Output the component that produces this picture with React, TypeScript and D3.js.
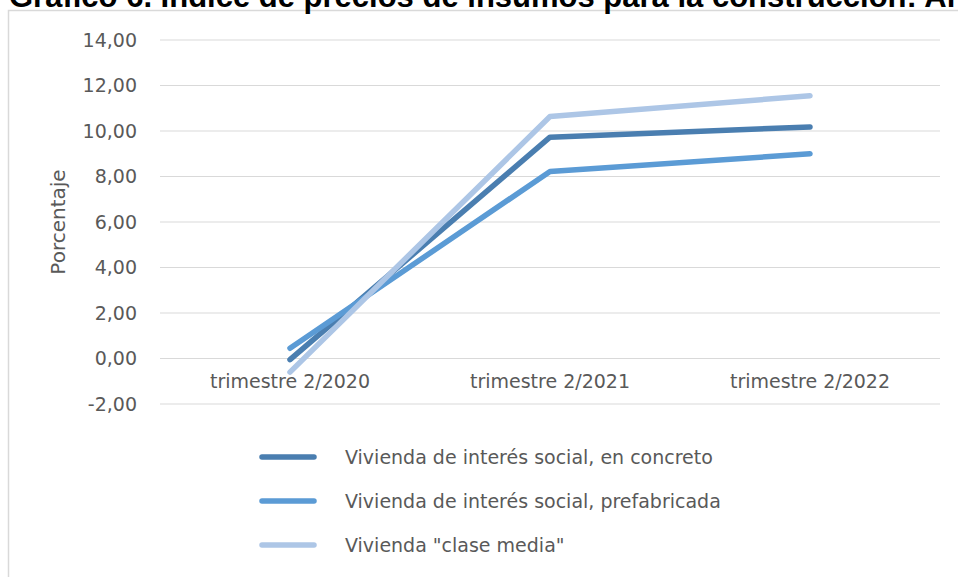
import React from 'react';
import * as d3 from 'd3';

const categories = ['trimestre 2/2020', 'trimestre 2/2021', 'trimestre 2/2022'];
const seriesNames = [
  'Vivienda de interés social, en concreto',
  'Vivienda de interés social, prefabricada',
  'Vivienda "clase media"',
];
const concreto = [-0.05, 9.73, 10.18];
const prefabricada = [0.45, 8.22, 9.0];
const claseMedia = [-0.6, 10.64, 11.55];
const yTicks = [-2, 0, 2, 4, 6, 8, 10, 12, 14];
const colors = ['#4A7EB0', '#5B9BD5', '#ADC6E6'];

const W = 958;
const H = 577;
const font = '"DejaVu Sans", sans-serif';

const App: React.FC = () => {
  const series = [concreto, prefabricada, claseMedia];

  // plot area
  const left = 160;
  const right = 940;
  const x = d3.scaleBand<string>().domain(categories).range([left, right]);
  const y = d3.scaleLinear().domain([-2, 14]).range([404, 40]);
  const fmt = (v: number) => v.toFixed(2).replace('.', ',');

  const line = d3
    .line<number>()
    .x((_, i) => (x(categories[i]) as number) + x.bandwidth() / 2)
    .y((d) => y(d));

  return (
    <svg
      width={W}
      height={H}
      style={{ position: 'absolute', left: 0, top: 0, background: '#fff' }}
    >
      {/* chart frame */}
      <rect x={8.5} y={10.5} width={W + 10} height={H + 10} fill="#fff" stroke="#D9D9D9" strokeWidth={1.5} />

      {/* title, cut off at the top */}
      <text x={9} y={7} fontFamily='"Liberation Sans", Arial, sans-serif' fontWeight="bold" fontSize={31} fill="#000">
        Gráfico 6. Índice de precios de insumos para la construcción: Anual
      </text>

      {/* grid */}
      {yTicks.map((t) => (
        <g key={t}>
          <line x1={left} x2={right} y1={y(t)} y2={y(t)} stroke="#D9D9D9" strokeWidth={1.2} />
          <text
            x={137}
            y={y(t)}
            dy="0.36em"
            textAnchor="end"
            fontFamily={font}
            fontSize={19}
            fill="#595959"
          >
            {fmt(t)}
          </text>
        </g>
      ))}

      {/* axis title */}
      <text
        transform={`translate(65,${y(6)}) rotate(-90)`}
        textAnchor="middle"
        fontFamily={font}
        fontSize={20}
        fill="#595959"
      >
        Porcentaje
      </text>

      {/* category labels */}
      {categories.map((c) => (
        <text
          key={c}
          x={(x(c) as number) + x.bandwidth() / 2}
          y={y(-1)}
          dy="0.36em"
          textAnchor="middle"
          fontFamily={font}
          fontSize={19}
          fill="#595959"
        >
          {c}
        </text>
      ))}

      {/* lines */}
      {series.map((s, i) => (
        <path
          key={i}
          d={line(s) as string}
          fill="none"
          stroke={colors[i]}
          strokeWidth={5.5}
          strokeLinecap="round"
          strokeLinejoin="round"
        />
      ))}

      {/* legend */}
      {seriesNames.map((n, i) => {
        const ly = 457 + i * 44;
        return (
          <g key={n}>
            <line x1={262} x2={314} y1={ly} y2={ly} stroke={colors[i]} strokeWidth={5.5} strokeLinecap="round" />
            <text x={345} y={ly} dy="0.36em" fontFamily={font} fontSize={19} fill="#595959">
              {n}
            </text>
          </g>
        );
      })}
    </svg>
  );
};

export default App;
